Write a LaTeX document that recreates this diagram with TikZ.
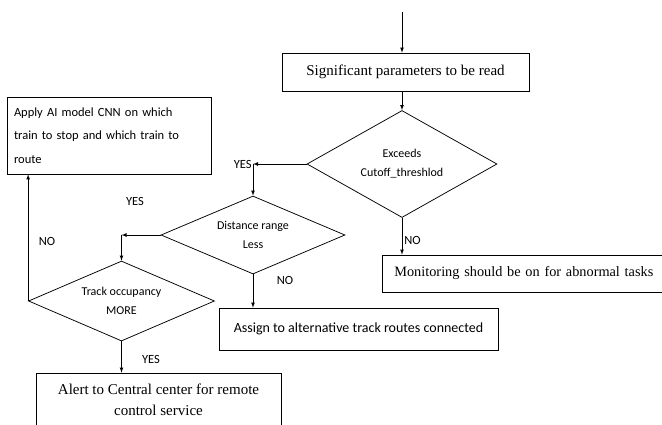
\documentclass[tikz,border=0pt]{standalone}
\usepackage{fontspec}
\setmainfont{Liberation Serif}
\newfontfamily\calibri{Carlito}
\usetikzlibrary{arrows}
\usetikzlibrary{positioning,shapes}

\begin{document}
\begin{tikzpicture}[x=1pt,y=-1pt,line width=0.75pt,>=latex,
  box/.style={draw,rectangle,inner sep=0pt,font=\fontsize{15}{21}\selectfont},
  decision/.style={draw,diamond,inner sep=0pt,align=center,
    font=\calibri\fontsize{12}{19}\selectfont},
  answer/.style={font=\calibri\fontsize{12.5}{15}\selectfont,inner sep=1pt}]
  \useasboundingbox (0,0) rectangle (662,424);

  \node[box,minimum width=247pt,minimum height=38pt] (read) at (405.5,72)
    {Significant parameters to be read};
  \node[decision,aspect=1.78,minimum width=190pt,minimum height=107pt] (cutoff)
    at (402,164) {Exceeds\\Cutoff\_threshlod};
  \node[decision,aspect=2.36,minimum width=184pt,minimum height=78pt] (distance)
    at (253,235) {Distance range\\Less};
  \node[decision,aspect=2.3,minimum width=186pt,minimum height=80pt] (occupancy)
    at (121.5,301) {Track occupancy\\MORE};

  \node[box,font=\calibri\fontsize{12.5}{23.5}\selectfont,text width=190pt,
    inner xsep=7pt,minimum height=77pt,align=left] (apply) at (109,135.5)
    {Apply AI model CNN on which\\train to stop and which train to\\route};
  \node[box,font=\fontsize{14.3}{18}\selectfont,anchor=west,text width=290pt,
    inner xsep=12pt,minimum height=37pt,align=left] (monitor) at (382,273.5)
    {Monitoring should be on for abnormal tasks};
  \node[box,font=\calibri\fontsize{14}{17}\selectfont,minimum width=279pt,
    minimum height=42pt] (assign) at (358.5,329)
    {Assign to alternative track routes connected};
  \node[box,minimum width=245pt,minimum height=53pt,align=center] (alert)
    at (158.5,399.5) {Alert to Central center for remote\\control service};

  \coordinate (start) at (402,12);
  \coordinate (yes1) at (cutoff.west -| distance.north);
  \coordinate (yes2) at (distance.west -| occupancy.north);

  \draw[->] (start) -- (start |- read.north);
  \draw[->] (read.south -| cutoff.north) -- (cutoff.north);
  \draw[->] (cutoff.west) -- (yes1);
  \draw[->] (yes1) -- (distance.north);
  \draw[->] (cutoff.south) -- (cutoff.south |- monitor.north);
  \draw[->] (distance.west) -- (yes2);
  \draw[->] (yes2) -- (occupancy.north);
  \draw[->] (distance.south) -- (distance.south |- assign.north);
  \draw[->] (occupancy.west) -- (occupancy.west |- apply.south);
  \draw[->] (occupancy.south) -- (occupancy.south |- alert.north);

  \node[answer,anchor=east] (yes1label) at (yes1) {YES};
  \node[answer] (yes2label) at (135,201) {YES};
  \node[answer] (yes3label) at (151,359) {YES};
  \node[answer,anchor=west] (no1label) at (403,240) {NO};
  \node[answer] (no2label) at (285,280) {NO};
  \node[answer] (no3label) at (47,241) {NO};
\end{tikzpicture}
\end{document}
